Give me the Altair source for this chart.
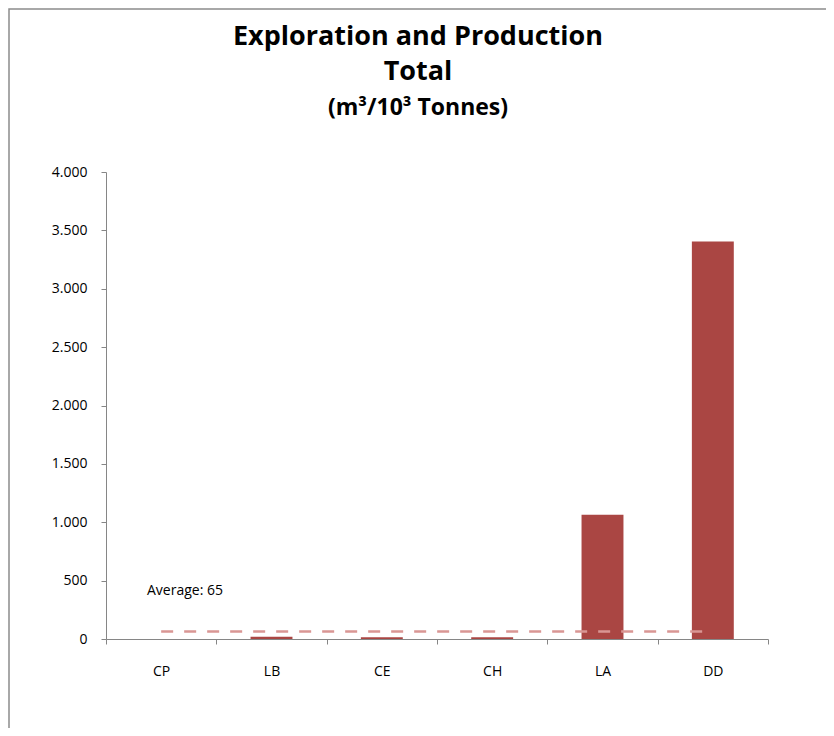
import altair as alt
import pandas as pd

categories = ["CP", "LB", "CE", "CH", "LA", "DD"]
values = [0, 20, 16, 16, 1065, 3405]
average_value = 65
average_label = "Average: 65"
y_ticks = [0, 500, 1000, 1500, 2000, 2500, 3000, 3500, 4000]
title_lines = ["Exploration and Production", "Total"]
subtitle_line = "(m³/10³ Tonnes)"

bar_color = "#AA4643"
avg_color = "#D99694"
axis_color = "#868686"
font = "Open Sans"

df = pd.DataFrame({"cat": categories, "val": values})
avg_df = pd.DataFrame({"start": [categories[0]], "end": [categories[-1]], "avg": [average_value], "label": [average_label]})
title_df = pd.DataFrame({"t": [title_lines]})
sub_df = pd.DataFrame({"t": [subtitle_line]})

W, H = 662, 467
PL, PT = 98, 164
SVG_W, SVG_H = 818, 720

xscale = alt.Scale(domain=categories, paddingInner=0, paddingOuter=0)
yscale = alt.Scale(domain=[0, 4000], nice=False)

bars = alt.Chart(df).mark_bar(color=bar_color, width=alt.RelativeBandSize(0.38)).encode(
    x=alt.X("cat:N", scale=xscale, sort=categories,
            axis=alt.Axis(title=None, labelAngle=0, tickBand="extent", tickSize=5,
                          labelPadding=20, domainColor=axis_color, tickColor=axis_color,
                          labelFont=font, labelFontSize=14, labelColor="#000000")),
    y=alt.Y("val:Q", scale=yscale,
            axis=alt.Axis(title=None, values=y_ticks, grid=False, tickSize=5, labelPadding=14,
                          domainColor=axis_color, tickColor=axis_color,
                          labelFont=font, labelFontSize=14, labelColor="#000000",
                          labelExpr="replace(format(datum.value, ','), ',', '.')")),
)

avg_rule = alt.Chart(avg_df).mark_rule(color=avg_color, strokeWidth=2.5, strokeDash=[12, 11]).encode(
    x=alt.X("start:N", scale=xscale, sort=categories),
    x2="end:N",
    y=alt.Y("avg:Q", scale=yscale),
)

avg_text = alt.Chart(avg_df).mark_text(align="left", baseline="middle", font=font, fontSize=14, color="#000000").encode(
    x=alt.value(41),
    y=alt.value(419),
    text="label:N",
)

border = alt.Chart(avg_df).mark_rect(fill=None, stroke="#8c8c8c", strokeWidth=1.5).encode(
    x=alt.value(-PL + 1),
    x2=alt.value(SVG_W + 50),
    y=alt.value(-PT + 1),
    y2=alt.value(SVG_H + 50),
)

title_text = alt.Chart(title_df).mark_text(
    align="center", baseline="middle", font=font, fontSize=27, fontWeight="bold", color="#000000",
    lineHeight=35,
).encode(x=alt.value(312), y=alt.value(-135), text="t")

sub_text = alt.Chart(sub_df).mark_text(
    align="center", baseline="middle", font=font, fontSize=23, fontWeight="bold", color="#000000",
).encode(x=alt.value(312), y=alt.value(-64), text="t:N")

chart = alt.layer(border, bars, avg_rule, avg_text, title_text, sub_text).properties(
    width=W,
    height=H,
    autosize=alt.AutoSizeParams(type="none"),
    padding={"left": PL, "top": PT, "right": SVG_W - PL - W, "bottom": SVG_H - PT - H},
).configure_view(stroke=None)

chart.save("out.html", embed_options={"renderer": "svg", "actions": False})
